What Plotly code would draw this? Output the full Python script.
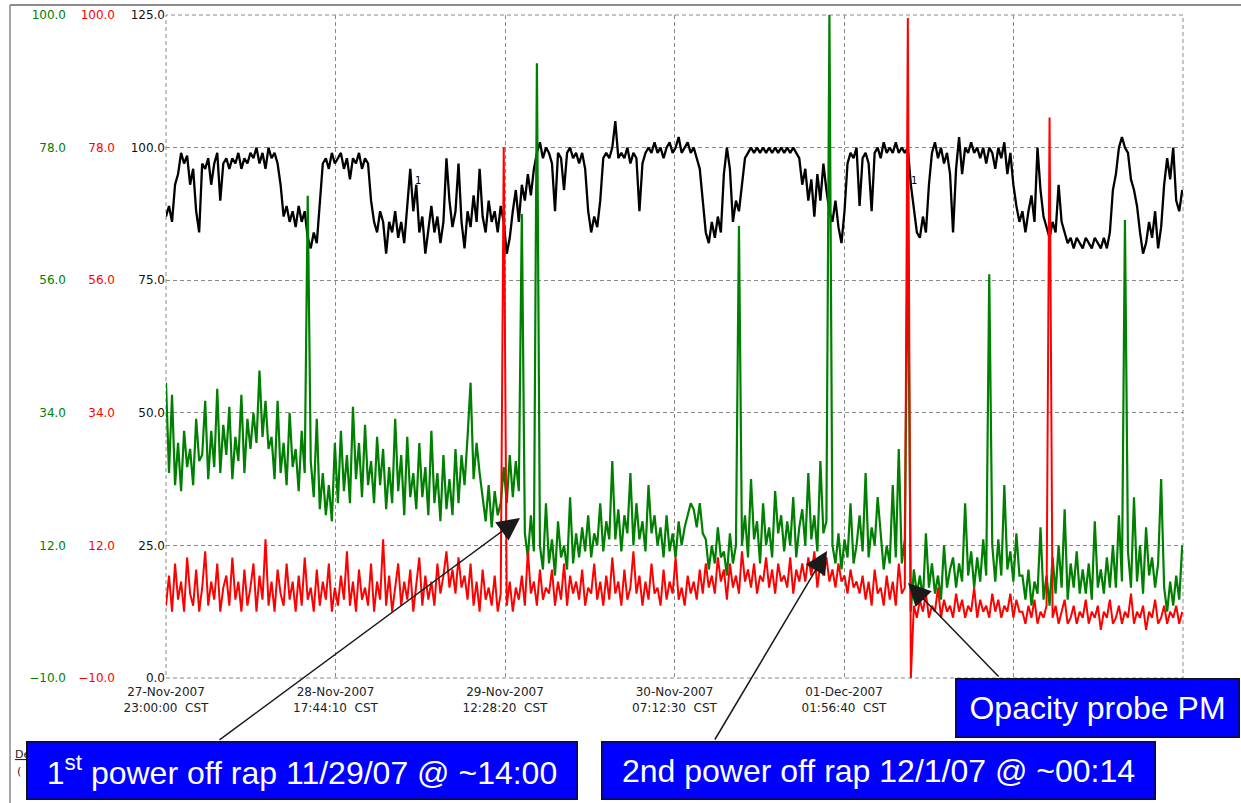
import pandas as pd
import plotly.graph_objects as go

W, H = 1241, 803

# ---- data (one sample every 20 min) ----
start = pd.Timestamp("2007-11-27 23:00:00")
sample_minutes = 20

tick_times = [
    "2007-11-27 23:00:00", "2007-11-28 17:44:10", "2007-11-29 12:28:20",
    "2007-11-30 07:12:30", "2007-12-01 01:56:40", "2007-12-01 20:40:50",
    "2007-12-02 15:25:00",
]
# the last two labels sit under the "Opacity probe PM" box in the original
tick_labels = [
    "27-Nov-2007<br>23:00:00  CST", "28-Nov-2007<br>17:44:10  CST",
    "29-Nov-2007<br>12:28:20  CST", "30-Nov-2007<br>07:12:30  CST",
    "01-Dec-2007<br>01:56:40  CST", "", "",
]

black_ticks = [0, 25, 50, 75, 100, 125]
color_ticks = [-10, 12, 34, 56, 78, 100]

black_trend = [
    87, 89, 86, 93, 95, 99, 97, 98.5, 93, 96,
    88, 84, 97, 96, 98, 93, 97, 99, 90, 97,
    98, 96, 98, 97, 99, 96, 98, 97, 99, 98,
    100, 97, 99, 96, 100, 98, 99, 97, 93, 87,
    89, 86, 88, 85, 89, 86, 88, 83, 81, 84,
    82, 90, 97, 98, 96, 99, 97, 98, 99, 96,
    98, 94, 98, 97, 99, 96, 98, 97, 90, 86,
    84, 88, 86, 80, 86, 84, 88, 83, 86, 82,
    89, 96, 88, 93, 84, 87, 80, 85, 89, 84,
    87, 82, 86, 98, 90, 85, 88, 97, 86, 81,
    88, 85, 91, 86, 96, 87, 84, 90, 86, 88,
    84, 89, 86, 80, 83, 88, 92, 86, 93, 90,
    95, 91, 96, 99, 101, 98, 100, 99, 97, 88,
    99, 98, 92, 99, 100, 98, 99, 97, 99, 96,
    88, 84, 87, 85, 90, 98, 99, 98, 100, 105,
    98, 99, 98, 100, 97, 99, 98, 88, 97, 99,
    100, 99, 101, 99, 100, 98, 100, 101, 99, 100,
    102, 99, 100, 101, 99, 100, 98, 96, 90, 84,
    82, 86, 83, 87, 84, 95, 100, 96, 86, 90,
    88, 93, 98, 99, 100, 99, 100, 99, 100, 99,
    100, 99, 100, 99, 100, 99, 100, 99, 100, 99,
    98, 93, 96, 90, 94, 87, 95, 90, 97, 92,
    88, 86, 90, 85, 82, 88, 97, 99, 98, 100,
    89, 98, 99, 97, 88, 99, 100, 98, 101, 99,
    100, 99, 101, 99, 100, 99, 100, 93, 88, 84,
    83, 87, 84, 93, 99, 101, 98, 100, 97, 99,
    95, 84, 96, 102, 95, 100, 99, 101, 99, 100,
    98, 100, 97, 100, 99, 96, 100, 98, 101, 95,
    99, 93, 89, 86, 88, 84, 88, 91, 86, 100,
    92, 87, 85, 83, 86, 84, 93, 86, 84, 82,
    83, 81, 83, 82, 81, 83, 82, 81, 83, 82,
    81, 83, 81, 84, 92, 95, 100, 102, 100, 99,
    94, 92, 89, 84, 80, 82, 86, 83, 88, 81,
    85, 93, 98, 94, 100, 90, 88, 92,
]

green_trend = [
    39, 24, 37, 22, 29, 21, 31, 25, 28, 22, 33, 26,
    27, 36, 23, 31, 25, 38, 24, 32, 27, 35, 23, 30, 26, 37, 24, 33, 28,
    34, 29, 41, 30, 36, 28,
    30, 23, 36, 24, 29, 22, 34, 25, 28, 21, 31, 24,
    70,
    26, 20, 33, 18, 24, 17, 22, 16, 29, 19,
    31, 21, 27, 19, 35, 23, 29, 20, 32, 22, 26, 19, 30, 22,
    28, 18, 25, 19, 33, 21, 27, 17, 30, 20, 24, 18, 29,
    20, 25, 17, 31, 19, 24, 16, 27, 18, 23, 17, 28, 19,
    27, 22, 30, 39, 23, 29, 24,
    20, 16, 22, 15, 21, 17, 19,
    25, 19, 27, 20, 26, 21,
    67,
    14, 10, 17, 11,
    92,
    12, 8, 19, 9, 13, 7, 16, 10, 12, 8, 20, 9, 14, 10,
    15, 11, 17, 10, 14, 12, 19, 11, 16, 13,
    26, 13, 18, 11, 17, 14, 24, 12, 19, 13, 16, 11, 22, 14, 17, 12,
    15, 10, 17, 11, 14, 10, 16, 12, 15, 17, 19,
    18, 15, 19, 14,
    13, 8, 12, 9, 15, 10, 11, 7, 14, 9, 12,
    65,
    12, 17, 10, 23, 13, 16, 9, 19, 12, 15, 10, 21, 14, 17, 11, 16, 12, 20, 10, 15,
    18, 12, 24, 13, 17, 11, 26, 14, 16,
    100,
    12, 9, 14, 8, 13, 10, 19, 9, 12,
    17, 11, 24, 10, 15, 12, 20,
    14, 8, 12, 9, 22, 10, 28, 9, 13,
    66, 1,
    8, 4, 7, 3, 14, 5, 9, 4, 7, 3, 12, 5, 8,
    10, 5, 9, 6, 19, 7, 11, 5, 10, 6, 13, 7,
    57,
    12, 6, 13, 7, 22, 8, 11, 6, 14, 7,
    7, 3, 8, 2, 6, 4, 15, 3, 7, 2,
    10, 4, 12, 5, 18, 3, 9, 5, 11, 4,
    8, 4, 9, 3, 16, 5, 8, 4, 10, 5,
    12, 5, 17, 6,
    66,
    11, 5, 20, 6, 12, 4, 15, 7, 10, 5, 9,
    23,
    5, 1, 6, 2, 7, 3, 12,
]

red_trend = [
    2, 7, 1, 9, 3, 6, 1, 10, 4, 2,
    8, 1, 5, 11, 2, 6, 3, 9, 1, 5,
    7, 2, 10, 3, 6, 1, 8, 2, 5, 9,
    1, 7, 3, 13, 2, 6, 1, 8, 4, 2,
    9, 3, 6, 1, 7, 2, 10, 3, 5, 1,
    8, 2, 6, 3, 9, 1, 5, 2, 7, 3,
    11, 2, 6, 1, 8, 3, 5, 2, 9, 1,
    6, 3, 13, 2, 7, 1, 5, 9, 2, 6,
    3, 8, 1, 5, 10, 2, 7, 3, 6, 2,
    9, 4, 7, 11, 5, 8, 4, 10, 5, 7,
    3, 9, 2, 6, 1, 8, 3, 5, 2, 7, 1, 4,
    78,
    2, 6, 1, 5, 3, 7, 2, 11, 4, 6, 2, 8, 3, 5,
    4, 8, 2, 6, 3, 9, 2, 7, 4, 6, 3, 8, 2, 5, 4, 9, 3, 6, 2,
    7, 3, 10, 4, 6, 2, 8, 3, 5, 11, 4, 7, 2, 6, 3, 9, 4, 5, 2, 8, 3, 6, 4, 10, 3, 5, 2, 7, 4, 6, 3, 8, 4,
    9, 5, 7, 4, 10, 6, 8, 3, 9, 5, 7, 4, 11, 6, 8, 5, 9, 4, 7, 6, 10, 5, 8, 4, 9, 6, 7, 5, 10, 4, 8, 6,
    9, 6, 10, 7, 11, 5, 9, 7, 10, 6, 8, 5, 9, 6, 7, 4, 8, 5, 6, 4,
    7, 3, 6, 2, 8, 4, 5, 2, 7, 3, 6, 2, 9, 4, 5,
    99.5, -10,
    2, 0, 3, 1, 4, 0, 2, 1, 5, 0, 3, 1, 2, 0, 4, 1, 3, 0, 2, 1, 5, 0, 3, 1, 2, 0, 4, 1, 3, 0, 2, 1, 4, 0, 3, 1,
    1, -1, 2, 0, 3, -1, 1, 0, 2,
    83,
    0, 2, -1, 1, 3, -1, 0, 2, -1, 1, 0, 3, -1, 1, 0, 2, -2, 1, 0, 3, -1, 0, 2, -1, 1, 0, 4, -1, 1, 0, 2, -2, 1, 0, 3, -1, 0, 2, -1, 1, 0, 2, -1, 1,
]

assert len(black_trend) == len(green_trend) == len(red_trend), (
    len(black_trend), len(green_trend), len(red_trend))


def px(x):
    return x / W


def py(y):
    return 1 - y / H


times = pd.date_range(start, periods=len(black_trend), freq=f"{sample_minutes}min")

fig = go.Figure()
fig.add_trace(go.Scatter(x=times, y=black_trend, mode="lines",
                         line=dict(color="black", width=2.3), yaxis="y"))
fig.add_trace(go.Scatter(x=times, y=green_trend, mode="lines",
                         line=dict(color="#008000", width=2.2), yaxis="y2"))
fig.add_trace(go.Scatter(x=times, y=red_trend, mode="lines",
                         line=dict(color="#ff0000", width=2.0), yaxis="y3"))

tick_font = dict(family="DejaVu Sans", size=12)
grid_color = "#8a8a8a"
grid = dict(showgrid=True, gridcolor=grid_color, gridwidth=1, griddash="4px,3px",
            zeroline=False, showline=False, ticks="", automargin=False)

fig.update_layout(
    width=W, height=H,
    margin=dict(l=0, r=0, t=0, b=0, autoexpand=False),
    paper_bgcolor="white", plot_bgcolor="white",
    showlegend=False, hovermode=False,
    xaxis=dict(domain=[px(166), px(1183)], type="date",
               range=[tick_times[0], tick_times[-1]],
               tickvals=tick_times, ticktext=tick_labels, ticklabelstandoff=5,
               tickfont=dict(tick_font, color="#222"), **grid),
    yaxis=dict(domain=[py(678), py(15)], range=[0, 125],
               tickvals=black_ticks, tickformat=".1f",
               tickfont=dict(tick_font, color="#111"), **grid),
    yaxis2=dict(overlaying="y", anchor="free", position=px(66), range=[-10, 100],
                tickvals=color_ticks, tickformat=".1f", showgrid=False, automargin=False,
                zeroline=False, showline=False, ticks="",
                tickfont=dict(tick_font, color="#008000")),
    yaxis3=dict(overlaying="y", anchor="free", position=px(115), range=[-10, 100],
                tickvals=color_ticks, tickformat=".1f", showgrid=False, automargin=False,
                zeroline=False, showline=False, ticks="",
                tickfont=dict(tick_font, color="#ff0000")),
)

# dashed border of the plot area (grid lines at the range edges)
fig.add_shape(type="rect", xref="x domain", yref="y domain", x0=0, x1=1, y0=0, y1=1,
              line=dict(color=grid_color, width=1, dash="4px,3px"), layer="below")

# outer frame of the original screenshot
fig.add_shape(type="line", xref="paper", yref="paper", x0=px(10), x1=1, y0=py(5), y1=py(5),
              line=dict(color="#666", width=1.5))
fig.add_shape(type="line", xref="paper", yref="paper", x0=px(10), x1=px(10), y0=0, y1=py(5),
              line=dict(color="#888", width=1.5))

# little "1" markers on the black trace
for xx in (413, 919):
    fig.add_annotation(x=px(xx), y=py(173), xref="paper", yref="paper", text="1",
                       showarrow=False, font=dict(family="DejaVu Sans", size=10, color="black"))

# fragments of the legend peeking out from behind the first box
fig.add_annotation(x=px(13), y=py(763), xref="paper", yref="paper", xanchor="left",
                   text="<u>De</u>", showarrow=False,
                   font=dict(family="DejaVu Sans", size=11, color="#222"))
fig.add_annotation(x=px(15), y=py(780), xref="paper", yref="paper", xanchor="left",
                   text="(", showarrow=False,
                   font=dict(family="DejaVu Sans", size=11, color="#222"))

# arrows (tip, tail)
arrows = [((520, 518), (218, 741)), ((827, 551), (714, 741)), ((908, 583), (1000, 678))]
for (tx, ty), (sx, sy) in arrows:
    fig.add_annotation(x=px(tx), y=py(ty), xref="paper", yref="paper", text="",
                       showarrow=True, ax=sx - tx, ay=sy - ty, arrowhead=2,
                       arrowsize=3, arrowwidth=1.5, arrowcolor="#1a1a1a", standoff=0)

# callout boxes
boxes = [
    ("1<sup>st</sup> power off rap 11/29/07 @ ~14:00", 26, 578, 741, 800),
    ("2nd power off rap 12/1/07 @ ~00:14", 601, 1156, 741, 800),
    ("Opacity probe PM", 955, 1240, 678, 738),
]
for text, x0, x1, y0, y1 in boxes:
    fig.add_annotation(x=px(x0), y=py(y0), xref="paper", yref="paper",
                       xanchor="left", yanchor="top", text=text, showarrow=False,
                       width=x1 - x0 - 3, height=y1 - y0 - 3, align="center", valign="middle",
                       bgcolor="#0000ff", bordercolor="#111", borderwidth=1.5, borderpad=0,
                       font=dict(family="Liberation Sans", size=32, color="white"))

fig.write_html("out.html", config={"displayModeBar": False},
               post_script="document.body.style.margin='0';")
